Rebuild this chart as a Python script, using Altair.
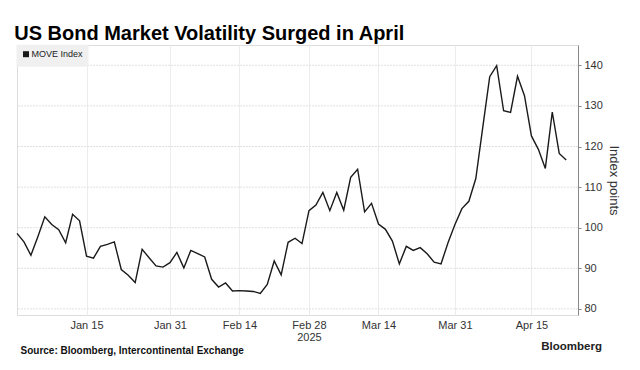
import altair as alt
import pandas as pd

# weekday-indexed series (Bloomberg drops weekends)
dates = pd.bdate_range("2025-01-01", "2025-04-22").strftime("%Y-%m-%d").tolist()
move = [
    98.6, 96.5, 93.2, 97.8, 102.7, 100.8, 99.5, 96.3, 103.3, 101.7,
    93.0, 92.5, 95.4, 95.9, 96.5, 89.7, 88.3, 86.5, 94.7, 92.6,
    90.6, 90.3, 91.4, 93.9, 90.1, 94.4, 93.6, 92.8, 87.3, 85.4,
    86.4, 84.4, 84.5, 84.4, 84.3, 83.8, 86.0, 91.8, 88.4, 96.4,
    97.4, 96.1, 104.2, 105.6, 108.7, 104.2, 108.7, 104.3, 112.4, 114.4,
    103.9, 106.0, 100.9, 99.6, 96.7, 91.1, 95.4, 94.4, 95.1, 93.6,
    91.5, 91.1, 96.3, 100.8, 104.7, 106.5, 112.1, 124.7, 137.2, 139.9,
    128.8, 128.4, 137.3, 132.5, 122.6, 119.3, 114.6, 128.5, 118.3, 116.7,
]
series_name = "MOVE Index"
tick_dates = ["2025-01-15", "2025-01-31", "2025-02-14", "2025-02-28",
              "2025-03-14", "2025-03-31", "2025-04-15"]
tick_labels = ["Jan 15", "Jan 31", "Feb 14", "Feb 28", "Mar 14", "Mar 31", "Apr 15"]
year_label = "2025"
year_under = "Feb 28"
y_ticks = list(range(80, 141, 5))
y_grid = list(range(80, 141, 10))

title = "US Bond Market Volatility Surged in April"
source = "Source: Bloomberg, Intercontinental Exchange"
brand = "Bloomberg"

df = pd.DataFrame({"date": dates, "value": move})
df["idx"] = range(len(df))
df["series"] = series_name
tick_idx = [dates.index(d) for d in tick_dates]

# label expression mapping weekday index -> label
expr = "''"
for i, lab in reversed(list(zip(tick_idx, tick_labels))):
    txt = f"['{lab}', '{year_label}']" if lab == year_under else f"'{lab}'"
    expr = f"datum.value == {i} ? {txt} : ({expr})"

FONT = "Liberation Sans"
xscale = alt.Scale(domain=[0, 80.7], nice=False, zero=False)
yscale = alt.Scale(domain=[78.5, 145], nice=False, zero=False)

grid = alt.Chart(pd.DataFrame({"g": y_grid})).mark_rule(
    color="#e0e0e0", strokeWidth=1, strokeDash=[2, 1]
).encode(y=alt.Y("g:Q", scale=yscale))

line = alt.Chart(df).mark_line(strokeWidth=1.4).encode(
    x=alt.X(
        "idx:Q", scale=xscale,
        axis=alt.Axis(
            values=tick_idx, labelExpr=expr, grid=True, gridColor="#ececec",
            ticks=False, domain=False, labelPadding=4, labelFontSize=11,
            labelColor="#333", labelFont=FONT, labelLineHeight=12,
            title=source, titleFont=FONT, titleFontSize=10, titleFontWeight="bold",
            titleColor="#111", titleAlign="left", titleBaseline="middle",
            titleX=3, titleY=35, titleAnchor="start",
        ),
    ),
    y=alt.Y(
        "value:Q", scale=yscale,
        axis=alt.Axis(
            orient="right", values=y_ticks,
            labelExpr="datum.value % 10 == 0 ? datum.label : ''",
            grid=False, tickSize=3, tickColor="#888", domainColor="#888",
            labelPadding=3, labelFontSize=11, labelColor="#333", labelFont=FONT,
            title="Index points", titleFontSize=13, titleFontWeight="normal",
            titleColor="#333", titleFont=FONT, titlePadding=4,
        ),
    ),
    color=alt.Color(
        "series:N", scale=alt.Scale(range=["#1a1a1a"]),
        legend=alt.Legend(
            title=None, orient="none", legendX=-0.5, legendY=-0.3,
            fillColor="#f0f0f0", padding=5, symbolType="square",
            symbolSize=9, symbolStrokeWidth=3, labelFontSize=9,
            labelFont=FONT, labelColor="#222", labelOffset=1,
        ),
    ),
)

brand_txt = alt.Chart(pd.DataFrame({"t": [brand]})).mark_text(
    align="right", baseline="middle", fontSize=11.5, fontWeight="bold",
    font=FONT, color="#222"
).encode(text="t:N", x=alt.value(585), y=alt.value(302))

chart = alt.layer(grid, line, brand_txt).properties(
    width=561, height=270,
    title=alt.Title(title, anchor="start", fontSize=20, fontWeight="bold",
                    font=FONT, color="#000", offset=1),
    autosize=alt.AutoSizeParams(type="none"),
    padding={"left": 9, "top": 37, "right": 54, "bottom": 47},
).configure_view(stroke=None).configure(background="white")

chart.save("out.html", embed_options={"renderer": "svg", "actions": False})
